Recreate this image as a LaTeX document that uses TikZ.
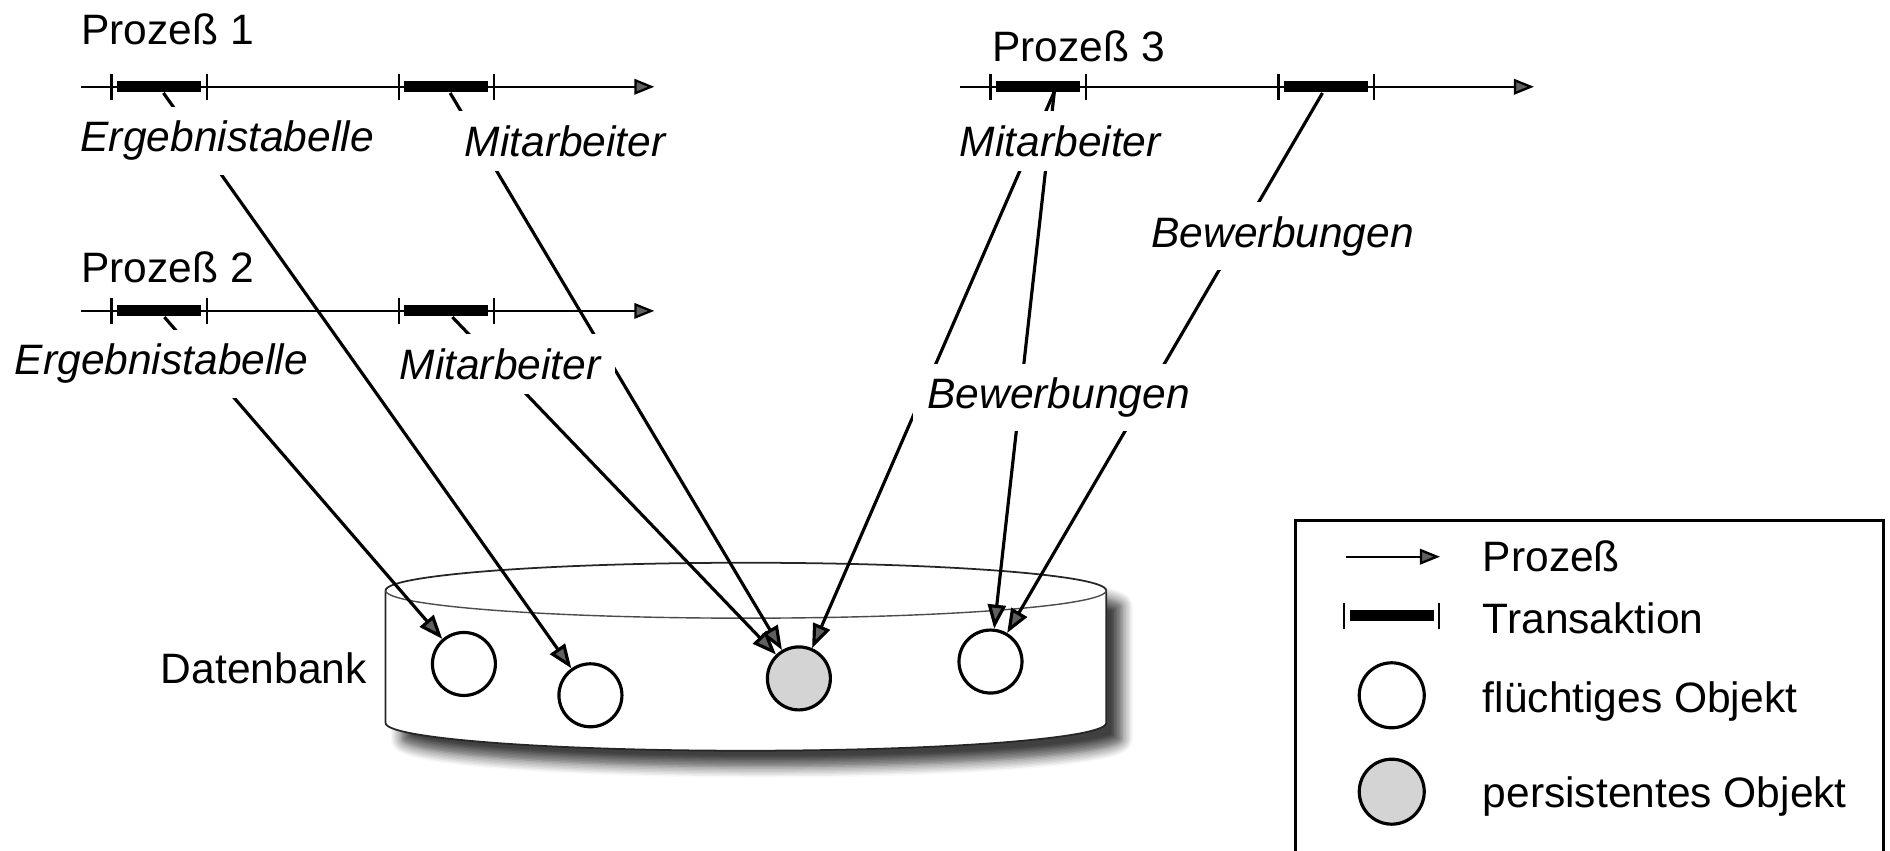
\documentclass[tikz,border=0pt]{standalone}
\usepackage{fontspec}
\setmainfont{Liberation Sans}
\usetikzlibrary{arrows.meta,shadows.blur}

\tikzset{
  proc/.style={line width=0.65pt, -{Triangle[length=2mm,width=1.55mm]}},
  conn/.style={line width=0.9pt, -{Triangle[length=2.4mm,width=1.8mm]}},
  obj/.style={draw, line width=0.9pt, circle, minimum size=6.3mm, inner sep=0pt, fill=white},
  pobj/.style={obj, fill=black!17},
  tbar/.style={fill=black, inner sep=0pt, minimum width=8.4mm, minimum height=1.1mm},
  lbl/.style={font=\fontsize{12.1}{14.5}\selectfont\itshape, fill=white, inner sep=1.4mm},
  txt/.style={inner sep=0pt, anchor=west},
}
% Transaktion: Balken mit zwei Strichen
\newcommand{\txn}[3]{%
  \draw[line width=0.6pt] ({#2-39.5},{#3-11}) -- ({#2-39.5},{#3+11});
  \draw[line width=0.6pt] ({#2+39.5},{#3-11}) -- ({#2+39.5},{#3+11});
  \node[tbar] (#1) at (#2,#3) {};
}

\begin{document}
\begin{tikzpicture}[x=0.1205mm, y=-0.1205mm, font=\fontsize{12.1}{14.5}\selectfont]
  \useasboundingbox (0,0) rectangle (1568.5,706.2);

  % Datenbank
  \fill[white, blur shadow={shadow xshift=1.6mm, shadow yshift=-1.6mm, shadow blur steps=8, shadow blur radius=1.1mm, shadow opacity=75}]
    (320,490) -- (320,600) arc[start angle=180, end angle=0, x radius=299, y radius=23]
    -- (918,490) arc[start angle=0, end angle=-180, x radius=299, y radius=23] -- cycle;
  \draw[line width=0.5pt, black!85]
    (320,490) -- (320,600) arc[start angle=180, end angle=0, x radius=299, y radius=23]
    -- (918,490) arc[start angle=0, end angle=-180, x radius=299, y radius=23];
  \draw[line width=0.4pt, black!70] (320,490) arc[start angle=180, end angle=0, x radius=299, y radius=23];
  \node[txt] (db) at (133,555) {Datenbank};

  % Objekte
  \node[obj] (c1) at (385,551) {};
  \node[obj] (c2) at (490,577) {};
  \node[pobj] (c3) at (663,563) {};
  \node[obj] (c4) at (822,549) {};

  % Prozesse
  \node[txt] (n1) at (67,24) {Prozeß 1};
  \coordinate (p1s) at (67,72);
  \coordinate (p1e) at (543,72);
  \draw[proc] (p1s) -- (p1e);
  \txn{t11}{132}{72}
  \txn{t12}{370.5}{72}

  \node[txt] (n2) at (67,222) {Prozeß 2};
  \coordinate (p2s) at (67,258);
  \coordinate (p2e) at (543,258);
  \draw[proc] (p2s) -- (p2e);
  \txn{t21}{132}{258}
  \txn{t22}{370.5}{258}

  \node[txt] (n3) at (823,38) {Prozeß 3};
  \coordinate (p3s) at (797,72);
  \coordinate (p3e) at (1273,72);
  \draw[proc] (p3s) -- (p3e);
  \txn{t31}{861.5}{72}
  \txn{t32}{1100.5}{72}
  \coordinate (a31) at (875,76);

  % Zugriffe
  \draw[conn] (t11) -- (c2);
  \draw[conn] (t12) -- (c3);
  \draw[conn] (t21) -- (c1);
  \draw[conn] (t22) -- (c3);
  \draw[conn] (a31) -- (c3);
  \draw[conn] (a31) -- (c4);
  \draw[conn] (t32) -- (c4);

  % Beschriftungen
  \node[lbl] (l11) at (188.5,117) {Ergebnistabelle};
  \node[lbl] (l12) at (469,117) {Mitarbeiter};
  \node[lbl] (l21) at (134,302) {Ergebnistabelle};
  \node[lbl] (l22) at (415,302) {Mitarbeiter};
  \node[lbl] (l31) at (880,117) {Mitarbeiter};
  \node[lbl] (l32) at (1064.5,196) {Bewerbungen};
  \node[lbl] (l33) at (878.5,330) {Bewerbungen};

  % Legende
  \draw[line width=0.7pt] (1075,432) rectangle (1563,740);
  \coordinate (lp1) at (1117,462);
  \coordinate (lp2) at (1195,462);
  \draw[proc] (lp1) -- (lp2);
  \node[txt] (lgp) at (1230,462) {Prozeß};
  \txn{lt}{1155}{511}
  \node[txt] (lgt) at (1230,513) {Transaktion};
  \node[obj, minimum size=6.5mm] (lc1) at (1155,577) {};
  \node[txt] (lgf) at (1230,582) {flüchtiges Objekt};
  \node[pobj, minimum size=6.5mm] (lc2) at (1155,657) {};
  \node[txt] (lgs) at (1230,661) {persistentes Objekt};
\end{tikzpicture}
\end{document}
